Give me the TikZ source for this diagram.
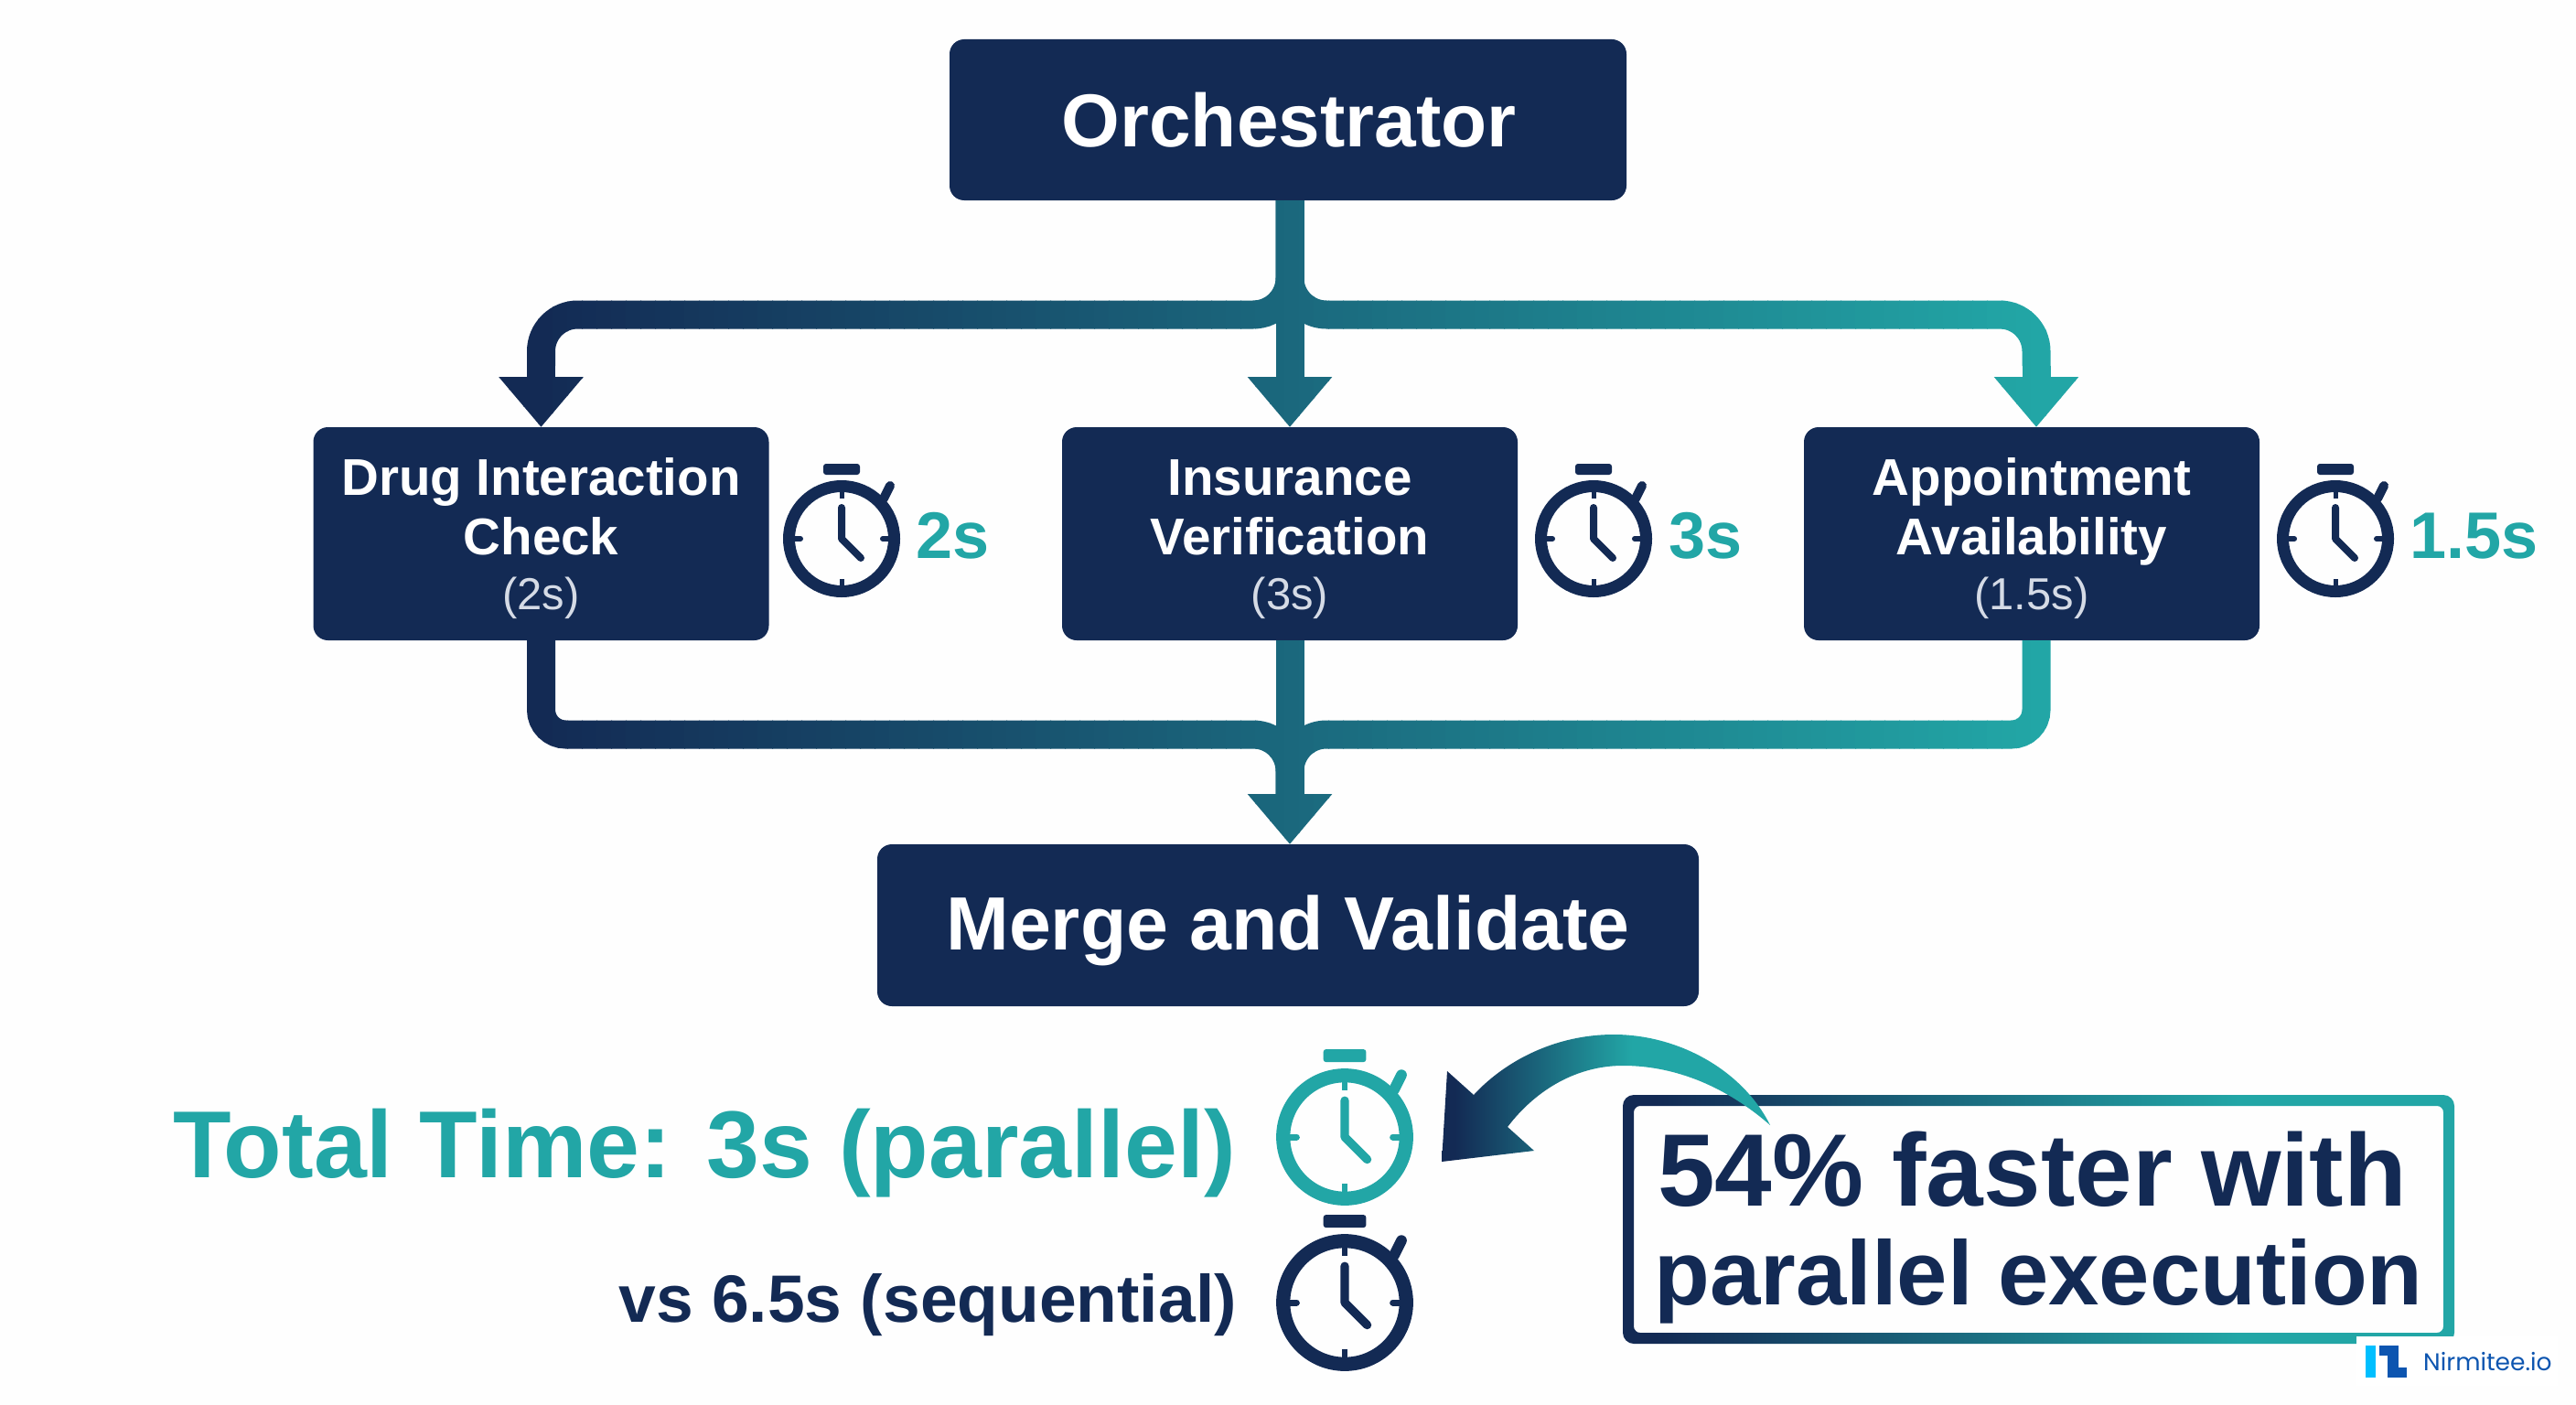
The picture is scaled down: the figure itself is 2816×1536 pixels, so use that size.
\documentclass[tikz,border=0pt]{standalone}
\usepackage{fontspec}
\setmainfont{Liberation Sans}
\newfontfamily\logofont{Poppins}
\usetikzlibrary{arrows.meta,calc}
\definecolor{navyc}{HTML}{132A54}
\definecolor{tealc}{HTML}{22A6A6}
\definecolor{subc}{HTML}{D5DBE6}
\definecolor{logodark}{HTML}{0D55B0}
\definecolor{logolight}{HTML}{00BFFF}
\definecolor{bgc}{HTML}{FEFEFE}
\pgfdeclarehorizontalshading{callsh}{100bp}{color(0bp)=(navyc);color(27bp)=(navyc);color(62bp)=(tealc);color(100bp)=(tealc)}
\pgfdeclarehorizontalshading{arrsh}{100bp}{color(0bp)=(navyc);color(27bp)=(navyc);color(54bp)=(tealc);color(100bp)=(tealc)}
\tikzset{
  boxn/.style={fill=navyc,text=white,rounded corners=16pt,outer sep=0pt,inner sep=0pt,align=center},
  bigbox/.style={boxn,font=\fontsize{82.5}{90}\selectfont\bfseries},
  smallbox/.style={boxn,minimum width=498pt,minimum height=233pt,font=\fontsize{56.5}{65}\selectfont\bfseries},
  conn/.style={line width=31pt,-{Triangle[length=55pt,width=89pt]}},
  linkn/.style={line width=31pt},
  timen/.style={text=tealc,anchor=base west,inner sep=0pt,font=\fontsize{72}{80}\selectfont\bfseries},
}
\newcommand{\subline}[1]{\fontsize{49}{60}\selectfont\mdseries\textcolor{subc}{#1}}
\newcommand{\topstrut}{\rule{0pt}{51pt}}
\newcommand{\watchat}[4]{%
  \begin{scope}[shift={(#1,#2)},scale=#3,line cap=round,line join=round,draw=#4,fill=#4]
    \draw[line width=#3*13pt] (0,0) circle[radius=57.5];
    \fill[rounded corners=3pt] (-20,-82) rectangle (20,-70);
    \draw[line width=#3*10pt] (46,-44) -- (53,-58);
    \draw[line width=#3*5pt,line cap=butt] (0,-57) -- (0,-44);
    \draw[line width=#3*5pt,line cap=butt] (0,57) -- (0,44);
    \draw[line width=#3*6pt] (57,0) -- (45,0);
    \draw[line width=#3*6pt] (-57,0) -- (-45,0);
    \draw[line width=#3*8pt] (0,-34) -- (0,0) -- (21,21);
  \end{scope}}
\begin{document}
\begin{tikzpicture}[x=1pt,y=-1pt]
  \useasboundingbox (0,0) rectangle (2816,1536);
  \fill[bgc] (0,0) rectangle (2816,1536);

  % boxes
  \node[bigbox,minimum width=740pt,minimum height=176pt,font=\fontsize{82}{90}\selectfont\bfseries] (orch) at (1408,131) {\hspace*{2pt}Orchestrator};
  \node[smallbox] (drug) at (591.5,583.5) {\topstrut Drug Interaction\\Check\\[-5pt]\subline{(2s)}};
  \node[smallbox] (ins) at (1410,583.5) {\topstrut Insurance\\Verification\\[-5pt]\subline{(3s)}};
  \node[smallbox] (app) at (2221,583.5) {\topstrut Appointment\\Availability\\[-5pt]\subline{(1.5s)}};
  \node[bigbox,minimum width=898pt,minimum height=177pt,text height=70pt,text depth=17pt] (merge) at (1408,1011.5) {Merge and Validate};

  % named way points of the connectors
  \coordinate (top) at (1410,219);
  \coordinate (jt) at (1410,344);
  \coordinate (tl) at (591.5,344);
  \coordinate (tr) at (2226,344);
  \coordinate (tls) at (591.5,400);
  \coordinate (trs) at (2226,400);
  \coordinate (bl) at (591.5,803);
  \coordinate (br) at (2226,803);
  \coordinate (bm) at (1410,803);
  \coordinate (bstem) at (1410,872);
  \coordinate (mergein) at (1410,923);
  \coordinate (appin) at (2226,467);
  \coordinate (appout) at (2226,700);

  % connectors: stroked in narrow strips so that the colour runs from navy to teal
  \foreach \sx in {540,556,...,2290}{
    \pgfmathsetmacro{\mixp}{max(0,min(100,(\sx+8-591)/(2226-591)*100))}
    \colorlet{stripc}{tealc!\mixp!navyc}
    \begin{scope}
      \clip (\sx,0) rectangle (\sx+17,1536);
      \draw[linkn,draw=stripc,rounded corners=40pt] (top) -- (jt) -- (tl) [rounded corners=27pt] -- (tls);
      \draw[conn,draw=stripc,fill=stripc] (tls) -- (drug.north);
      \draw[linkn,draw=stripc,rounded corners=40pt] (top) -- (jt) -- (tr) [rounded corners=27pt] -- (trs);
      \draw[conn,draw=stripc,fill=stripc] (trs) -- (appin);
      \draw[conn,draw=stripc,fill=stripc] (top) -- (ins.north);
      \draw[linkn,draw=stripc,rounded corners=27pt] (drug.south) -- (bl) [rounded corners=40pt] -- (bm) -- (bstem);
      \draw[linkn,draw=stripc,rounded corners=27pt] (appout) -- (br) [rounded corners=40pt] -- (bm) -- (bstem);
      \draw[conn,draw=stripc,fill=stripc] (ins.south) -- (mergein);
    \end{scope}
  }

  % stopwatches and times
  \watchat{920}{589}{1}{navyc}
  \watchat{1742}{589}{1}{navyc}
  \watchat{2553}{589}{1}{navyc}
  \node[timen] (t1) at (1001,610.5) {2s};
  \node[timen] (t2) at (1824,610.5) {3s};
  \node[timen] (t3) at (2634,610.5) {1.5s};

  % totals
  \node[anchor=base east,inner sep=0pt,text=tealc,font=\fontsize{104}{110}\selectfont\bfseries] (total) at (1351,1287) {Total Time: 3s (parallel)};
  \node[anchor=base east,inner sep=0pt,text=navyc,font=\fontsize{73.2}{80}\selectfont\bfseries] (seq) at (1352,1445) {vs 6.5s (sequential)};
  \watchat{1470}{1243}{1.17}{tealc}
  \watchat{1470}{1424}{1.17}{navyc}

  % callout
  \node[minimum width=909pt,minimum height=272pt,inner sep=0pt,outer sep=0pt,align=left,text=navyc] (call) at (2228.5,1333)
    {\fontsize{112.5}{106}\selectfont\bfseries\rule{0pt}{100pt}\hspace*{4pt}54\% faster with\\[34pt]\fontsize{99.5}{106}\selectfont\bfseries parallel execution};
  \path[shading=callsh,even odd rule,rounded corners=12pt] (call.north west) rectangle (call.south east)
    [rounded corners=7pt] ($(call.north west)+(12,12)$) rectangle ($(call.south east)+(-12,-12)$);

  % curved arrow
  \coordinate (tail) at (1935,1230);
  \coordinate (tip) at (1576,1270);
  \path[shading=arrsh] (tail) .. controls (1905,1170) and (1835,1131) .. (1764,1131)
     .. controls (1700,1131) and (1645,1160) .. (1611,1197)
     -- (1582,1171) -- (tip) -- (1677,1258) -- (1648,1232)
     .. controls (1680,1190) and (1725,1165) .. (1774,1165)
     .. controls (1840,1165) and (1895,1195) .. (tail) -- cycle;

  % logo
  \fill[white] (2576,1461) rectangle (2796,1515);
  \fill[logolight] (2586,1471) rectangle (2597,1506);
  \fill[logodark] (2601,1471) rectangle (2622,1482);
  \fill[logodark] (2610,1471) rectangle (2622,1506);
  \fill[logodark] (2610,1495) rectangle (2631,1506);
  \node[anchor=base west,inner sep=0pt,text=logodark,font=\logofont\fontsize{26.5}{30}\selectfont] (logo) at (2649,1498) {Nirmitee.io};
\end{tikzpicture}
\end{document}
